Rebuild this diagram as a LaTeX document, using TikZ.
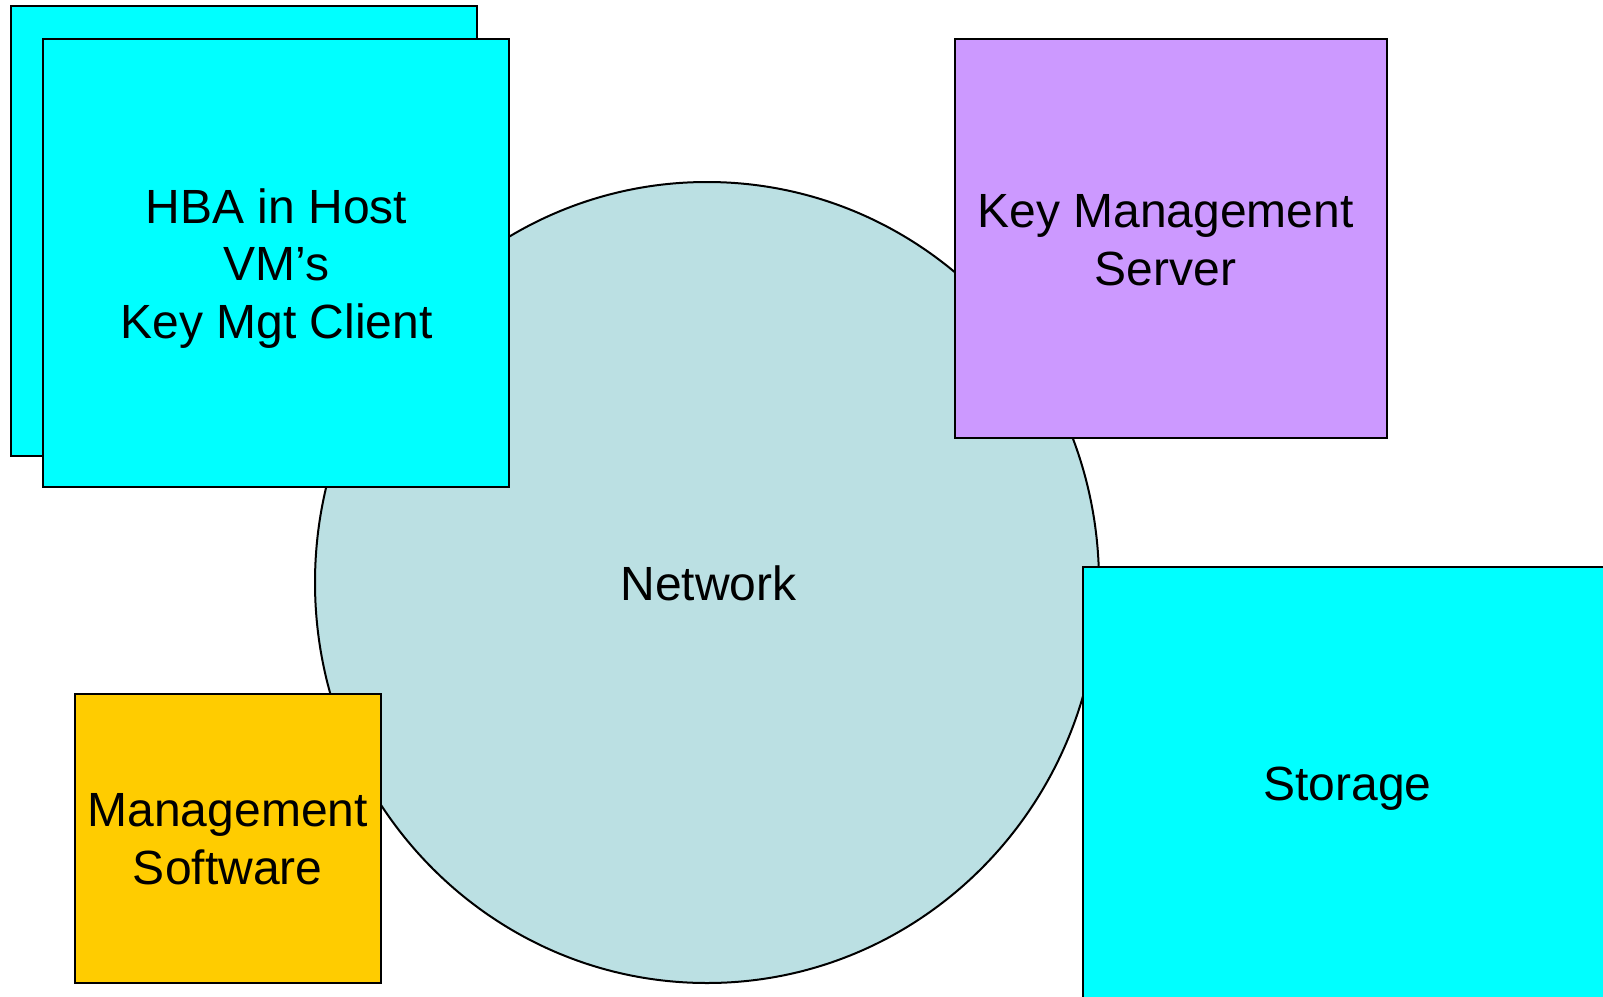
\documentclass[tikz,border=0pt]{standalone}
\usepackage{fontspec}
\setmainfont{Liberation Sans}
\usetikzlibrary{shapes.geometric}
\definecolor{hostcyan}{HTML}{00FFFF}
\definecolor{kmspurple}{HTML}{CC99FF}
\definecolor{mgmtgold}{HTML}{FFCC00}
\definecolor{netblue}{HTML}{BBE0E3}
\tikzset{
  box/.style={draw=black, line width=2pt, inner sep=0pt, rectangle},
  label/.style={font=\fontsize{48}{57.5}\selectfont, align=center, inner sep=0pt, anchor=base}
}
\begin{document}
\begin{tikzpicture}[x=1pt, y=-1pt]
  \useasboundingbox (0,0) rectangle (1603,996);
  \fill[white] (0,0) rectangle (1603,996);
  % network cloud behind everything
  \node[ellipse, draw=black, line width=2pt, fill=netblue, minimum width=784pt, minimum height=801pt, inner sep=0pt] (net) at (707,582.5) {};
  % host stack: back card, then front card
  \node[box, fill=hostcyan, minimum width=466pt, minimum height=450pt] (hostback) at (244,231) {};
  \node[box, fill=hostcyan, minimum width=466pt, minimum height=448pt] (host) at (276,263) {};
  % key management server
  \node[box, fill=kmspurple, minimum width=432pt, minimum height=399pt] (kms) at (1171,238.5) {};
  % management software
  \node[box, fill=mgmtgold, minimum width=306pt, minimum height=289pt] (mgmt) at (228,838.5) {};
  % storage, running off the page edge
  \node[box, fill=hostcyan, minimum width=537pt, minimum height=443pt] (stor) at (1351.5,788.5) {};
  % labels (base anchor sits on the last line)
  \node[label] (hosttxt) at (276.5,338) {HBA in Host\\VM’s\\Key Mgt Client};
  \node[label] (kmstxt) at (1165.5,285) {Key Management\\Server};
  \node[label] (nettxt) at (708.5,600) {Network};
  \node[label] (mgmttxt) at (227.7,884.3) {Management\\Software};
  \node[label] (stortxt) at (1347.5,800.7) {Storage};
\end{tikzpicture}
\end{document}
